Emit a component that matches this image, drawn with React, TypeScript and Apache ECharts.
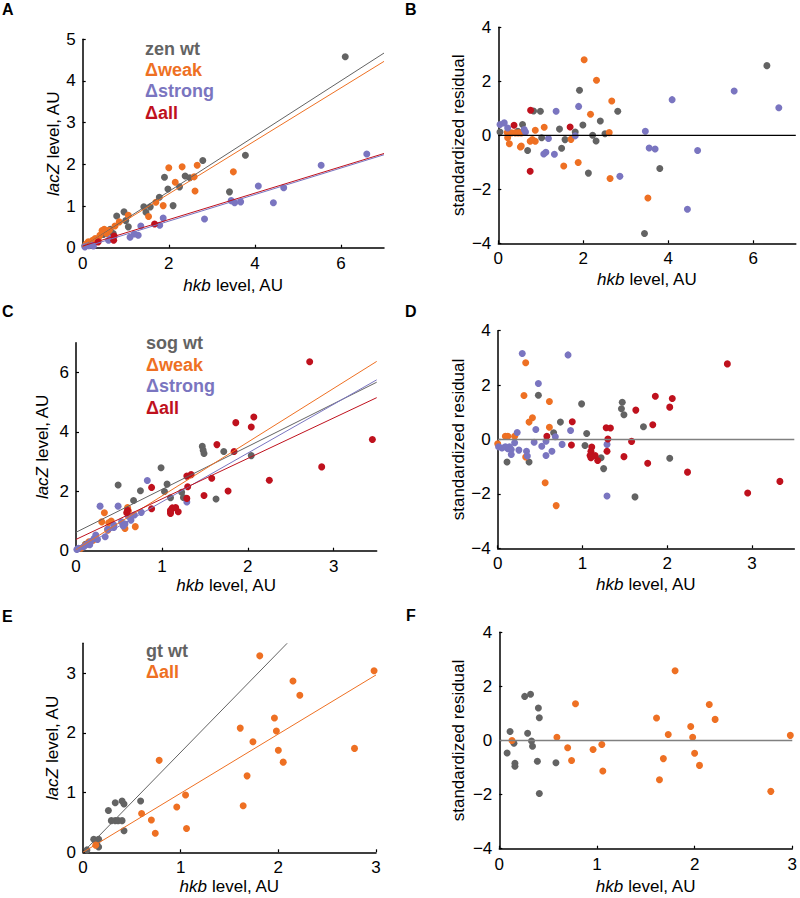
import React, { useEffect, useRef } from 'react';
import * as echarts from 'echarts';

const FONT = '"Liberation Sans", Arial, Helvetica, sans-serif';
const GRAY = '#636363';
const ORANGE = '#EE7023';
const BLUE = '#7A75C0';
const RED = '#BF111D';

// ---------- Panel A: zen, lacZ vs hkb ----------
const aGray = [[6.1,4.58],[3.78,2.22],[2.79,2.09],[1.9,1.69],[2.38,1.72],[2.49,1.68],[1.98,1.41],[2.25,1.46],[2.1,1.01],[1.78,1.21],[1.42,0.98],[1.57,0.98],[1.47,0.85],[0.96,0.86],[0.79,0.76],[1.0,0.65],[1.06,0.5],[0.64,0.44],[0.71,0.34],[0.48,0.32],[3.41,1.34],[0.05,0.05]];
const aWeak = [[2.0,1.92],[2.31,1.94],[2.66,1.98],[3.5,1.82],[2.15,1.57],[2.59,1.7],[2.61,1.36],[1.87,1.01],[1.7,1.09],[1.53,0.75],[1.06,0.78],[0.85,0.62],[0.75,0.52],[0.62,0.42],[0.5,0.44],[0.56,0.34],[0.4,0.3],[0.29,0.22],[0.23,0.18],[0.13,0.14],[0.08,0.09],[0.36,0.22],[0.45,0.41],[0.2,0.12]];
const aStrong = [[6.6,2.25],[5.54,1.98],[4.67,1.44],[4.43,1.08],[4.08,1.48],[3.45,1.13],[3.53,1.08],[3.67,1.1],[2.83,0.69],[1.87,0.71],[1.79,0.54],[1.35,0.52],[1.29,0.3],[1.2,0.33],[1.1,0.25],[0.6,0.18],[0.65,0.22],[0.25,0.04],[0.05,0.02],[0.14,0.05],[0.2,0.07]];
const aAll = [[0.36,0.14],[0.73,0.28],[0.72,0.18],[1.67,0.57]];
const aFitGray = [[0,0.02],[7,4.67]];
const aFitWeak = [[0,0.02],[7,4.47]];
const aFitStrong = [[0,0.0],[7,2.23]];
const aFitAll = [[0,0.04],[7,2.26]];

// ---------- Panel B: zen residuals ----------
const bGray = [[1.91,1.67],[0.83,0.9],[0.99,0.89],[2.81,0.89],[1.99,0.38],[2.4,0.53],[1.44,0.23],[0.57,0.4],[1.81,0.12],[1.02,-0.09],[1.57,-0.16],[2.22,0.0],[2.3,-0.21],[2.51,0.06],[0.69,-0.56],[1.49,-0.48],[2.12,-1.4],[3.8,-1.23],[0.04,0.12],[0.46,0.15],[3.44,-3.64],[6.32,2.58]];
const bWeak = [[2.31,2.04],[2.02,2.8],[2.67,1.27],[2.17,0.78],[1.08,0.3],[0.87,0.19],[2.61,0.1],[1.71,-0.15],[0.75,-0.22],[0.87,-0.22],[0.8,-0.16],[0.54,-0.4],[0.52,-0.43],[0.26,-0.31],[0.22,-0.09],[0.24,0.06],[0.31,0.09],[0.4,0.09],[0.47,0.09],[0.21,0.1],[1.88,-1.01],[1.54,-1.14],[2.63,-1.6],[3.52,-2.32],[0.54,0.09]];
const bStrong = [[4.09,1.32],[1.89,1.07],[1.36,0.89],[3.46,0.15],[3.55,-0.47],[3.69,-0.51],[2.86,-1.52],[1.81,-0.02],[1.18,-0.12],[1.12,-0.63],[1.07,-0.69],[1.32,-0.7],[0.04,0.4],[0.14,0.46],[0.22,0.27],[0.61,0.21],[0.64,0.12],[5.55,1.64],[6.6,1.02],[4.69,-0.56],[4.45,-2.74]];
const bAll = [[0.76,0.93],[0.37,0.37],[1.69,0.31],[0.75,-1.33]];
const bZero = [[0,0],[7,0]];

// ---------- Panel C: sog, lacZ vs hkb ----------
const cGray = [[1.47,3.51],[1.48,3.38],[1.49,3.27],[1.72,3.34],[2.04,3.2],[0.99,2.79],[0.49,2.21],[1.06,2.24],[0.75,2.02],[1.03,1.99],[0.67,1.69],[1.1,1.78],[1.23,1.97],[1.25,1.79],[1.63,1.74],[0.11,0.22],[0.37,0.72]];
const cWeak = [[0.33,1.28],[0.6,1.45],[0.61,1.34],[0.57,0.75],[0.69,0.81],[0.41,1.0],[0.38,0.94],[0.3,0.97],[0.37,0.69],[0.15,0.3],[0.11,0.19],[0.06,0.08],[0.2,0.35]];
const cStrong = [[0.83,2.36],[0.49,1.5],[0.28,1.5],[1.29,1.64],[0.76,1.29],[0.64,1.03],[0.68,1.2],[0.53,0.97],[0.55,0.83],[0.44,0.86],[0.44,0.78],[0.37,0.72],[0.34,0.47],[0.23,0.53],[0.21,0.41],[0.17,0.3],[0.13,0.22],[0.09,0.13],[0.03,0.08],[0.01,0.04],[0.61,1.16],[0.57,0.9],[0.16,0.2],[0.25,0.38]];
const cAll = [[1.86,4.31],[2.04,4.16],[2.07,4.5],[1.64,3.57],[1.84,3.34],[1.29,2.51],[1.34,2.56],[1.58,2.44],[0.88,2.13],[1.3,2.15],[1.77,2.01],[1.49,1.86],[1.29,1.76],[0.88,1.41],[0.59,1.28],[0.6,1.36],[1.12,1.44],[1.16,1.45],[1.1,1.25],[1.1,1.31],[1.19,1.31],[1.1,1.36],[2.72,6.36],[3.45,3.74],[2.86,2.82],[2.25,2.37]];
const cFitGray = [[0,0.62],[3.5,5.67]];
const cFitWeak = [[0,0.03],[3.5,6.37]];
const cFitStrong = [[0,0.0],[3.5,5.75]];
const cFitAll = [[0,0.38],[3.5,5.15]];

// ---------- Panel D: sog residuals ----------
const dGray = [[0.48,1.63],[0.99,1.31],[1.47,1.37],[1.46,1.13],[1.49,0.91],[0.74,0.64],[1.72,0.47],[0.66,0.25],[1.05,0.22],[1.03,-0.22],[1.22,-0.67],[1.25,-1.07],[2.03,-0.69],[1.62,-2.11],[0.11,-0.83],[0.37,-0.83]];
const dWeak = [[0.33,2.82],[0.31,1.62],[0.61,1.4],[0.41,0.8],[0.37,0.64],[0.61,0.45],[0.09,0.12],[0.12,0.12],[0.2,0.12],[0.0,-0.16],[0.33,-0.64],[0.56,-1.59],[0.69,-2.43]];
const dStrong = [[0.29,3.16],[0.83,3.11],[0.48,2.06],[0.45,0.37],[0.86,0.33],[0.23,0.26],[0.68,0.1],[0.76,-0.18],[0.43,-0.1],[0.57,-0.06],[0.52,-0.25],[0.64,-0.43],[0.57,-0.59],[0.34,-0.43],[0.35,-0.61],[0.25,-0.39],[0.2,-0.12],[0.16,-0.37],[0.14,-0.27],[0.12,-0.34],[0.09,-0.27],[0.05,-0.31],[0.01,-0.27],[1.29,-0.18],[1.29,-2.08],[0.16,-0.55]];
const dAll = [[1.86,1.59],[2.06,1.51],[2.03,1.19],[1.63,1.08],[1.83,0.54],[0.88,0.65],[1.28,0.43],[1.33,0.42],[1.3,0.02],[0.58,0.12],[0.87,-0.2],[1.58,-0.07],[1.11,-0.28],[1.1,-0.43],[1.09,-0.59],[1.15,-0.59],[1.1,-0.67],[1.18,-0.77],[1.29,-0.43],[1.49,-0.63],[1.77,-0.87],[2.71,2.78],[2.24,-1.2],[2.95,-1.97],[3.33,-1.54]];
const dZero = [[0,0],[3.5,0]];

// ---------- Panel E: gt, lacZ vs hkb ----------
const eGray = [[0.26,0.7],[0.33,0.83],[0.4,0.86],[0.42,0.81],[0.59,0.86],[0.29,0.53],[0.33,0.53],[0.36,0.53],[0.4,0.53],[0.42,0.36],[0.11,0.22],[0.16,0.22],[0.16,0.09],[0.04,0.04],[0.14,0.15]];
const eAll = [[1.81,3.29],[2.98,3.04],[2.15,2.87],[2.22,2.63],[1.96,2.25],[1.61,2.08],[1.98,2.03],[1.74,1.85],[2.0,1.71],[2.78,1.74],[2.05,1.51],[0.78,1.54],[1.68,1.28],[1.05,0.96],[0.96,0.76],[1.64,0.78],[0.6,0.65],[0.7,0.54],[1.06,0.4],[0.74,0.32],[0.13,0.12]];
const eFitGray = [[0,0],[2.09,3.5]];
const eFitAll = [[0,0],[3,2.97]];

// ---------- Panel F: gt residuals ----------
const fGray = [[0.08,-0.46],[0.11,0.33],[0.15,-0.1],[0.16,-0.84],[0.16,-0.95],[0.26,1.63],[0.32,1.71],[0.29,0.27],[0.33,-0.02],[0.34,-0.21],[0.4,1.2],[0.41,0.84],[0.39,-0.77],[0.41,-1.96],[0.58,-0.82]];
const fAll = [[0.13,0.0],[0.59,0.12],[0.78,1.36],[0.7,-0.27],[0.74,-0.74],[0.96,-0.33],[1.05,-0.15],[1.06,-1.13],[1.61,0.83],[1.8,2.58],[1.73,0.22],[1.64,-1.45],[1.68,-0.67],[1.96,0.52],[1.98,0.12],[2.0,-0.47],[2.05,-0.92],[2.15,1.33],[2.21,0.78],[2.78,-1.88],[2.98,0.19]];
const fZero = [[0,0],[3,0]];

// tick values
const ticksA_x = [0, 2, 4, 6];
const ticksA_y = [0, 1, 2, 3, 4, 5];
const ticksRes_y = [-4, -2, 0, 2, 4];
const ticksC_x = [0, 1, 2, 3];
const ticksC_y = [0, 2, 4, 6];
const ticksE_x = [0, 1, 2, 3];
const ticksE_y = [0, 1, 2, 3];

const fmt = (v: number) => (v < 0 ? '\u2212' + Math.abs(v) : String(v));

const labelStyle = { fontFamily: FONT, fontSize: 17, color: '#000' };
const nameStyle = {
  fontFamily: FONT,
  fontSize: 17,
  color: '#000',
  rich: { i: { fontFamily: FONT, fontSize: 17, color: '#000', fontStyle: 'italic' } },
};

function xAxis(gridIndex: number, max: number, ticks: number[], nameGap: number) {
  return {
    type: 'value',
    gridIndex,
    min: 0,
    max,
    name: '{i|hkb} level, AU',
    nameLocation: 'middle',
    nameGap,
    nameTextStyle: nameStyle,
    axisLine: { show: true, onZero: false, lineStyle: { color: '#000', width: 1.5 } },
    axisTick: { show: true, inside: true, length: 3, customValues: ticks, lineStyle: { color: '#000', width: 1.2 } },
    axisLabel: { ...labelStyle, margin: 7, customValues: ticks, formatter: fmt },
    splitLine: { show: false },
  };
}

function yAxis(gridIndex: number, min: number, max: number, ticks: number[], name: string, nameGap: number) {
  return {
    type: 'value',
    gridIndex,
    min,
    max,
    name,
    nameLocation: 'middle',
    nameGap,
    nameRotate: 90,
    nameTextStyle: nameStyle,
    axisLine: { show: true, onZero: false, lineStyle: { color: '#000', width: 1.5 } },
    axisTick: { show: true, inside: true, length: 3, customValues: ticks, lineStyle: { color: '#000', width: 1.2 } },
    axisLabel: { ...labelStyle, margin: 7, customValues: ticks, formatter: fmt },
    splitLine: { show: false },
  };
}

function dots(idx: number, data: number[][], color: string) {
  return {
    type: 'scatter',
    xAxisIndex: idx,
    yAxisIndex: idx,
    data,
    symbol: 'circle',
    symbolSize: 7,
    itemStyle: { color, opacity: 1 },
    silent: true,
    z: 2,
  };
}

function fit(idx: number, data: number[][], color: string, width = 1) {
  return {
    type: 'line',
    xAxisIndex: idx,
    yAxisIndex: idx,
    data,
    symbol: 'none',
    lineStyle: { color, width },
    silent: true,
    z: 3,
  };
}

function label(text: string, x: number, y: number, fill: string, size = 18) {
  return {
    type: 'text',
    x,
    y,
    style: { text, fill, font: `bold ${size}px ${FONT}`, verticalAlign: 'middle', align: 'left' },
  };
}

const option = {
  animation: false,
  grid: [
    { left: 82.7, top: 39.3, width: 301.3, height: 208.4 },
    { left: 498.3, top: 27.3, width: 297.5, height: 216 },
    { left: 76, top: 342.7, width: 300.7, height: 208 },
    { left: 497.7, top: 330.7, width: 296.6, height: 217.6 },
    { left: 83, top: 643.3, width: 293, height: 209 },
    { left: 499.3, top: 632.3, width: 296.4, height: 216.4 },
  ],
  xAxis: [
    xAxis(0, 7, ticksA_x, 29),
    xAxis(1, 7, ticksA_x, 27.5),
    xAxis(2, 3.5, ticksC_x, 26),
    xAxis(3, 3.5, ticksC_x, 28),
    xAxis(4, 3, ticksE_x, 26),
    xAxis(5, 3, ticksE_x, 29),
  ],
  yAxis: [
    yAxis(0, 0, 5, ticksA_y, '{i|lacZ} level, AU', 20),
    yAxis(1, -4, 4, ticksRes_y, 'standardized residual', 31),
    yAxis(2, 0, 7, ticksC_y, '{i|lacZ} level, AU', 25),
    yAxis(3, -4, 4, ticksRes_y, 'standardized residual', 30.5),
    yAxis(4, 0, 3.5, ticksE_y, '{i|lacZ} level, AU', 22),
    yAxis(5, -4, 4, ticksRes_y, 'standardized residual', 32),
  ],
  series: [
    dots(0, aGray, GRAY), dots(0, aWeak, ORANGE), dots(0, aStrong, BLUE), dots(0, aAll, RED),
    fit(0, aFitGray, GRAY), fit(0, aFitWeak, ORANGE), fit(0, aFitStrong, BLUE), fit(0, aFitAll, RED),
    fit(1, bZero, '#000', 1.2),
    dots(1, bGray, GRAY), dots(1, bWeak, ORANGE), dots(1, bStrong, BLUE), dots(1, bAll, RED),
    dots(2, cGray, GRAY), dots(2, cWeak, ORANGE), dots(2, cStrong, BLUE), dots(2, cAll, RED),
    fit(2, cFitGray, GRAY), fit(2, cFitWeak, ORANGE), fit(2, cFitStrong, BLUE), fit(2, cFitAll, RED),
    fit(3, dZero, '#808080', 1.5),
    dots(3, dGray, GRAY), dots(3, dWeak, ORANGE), dots(3, dStrong, BLUE), dots(3, dAll, RED),
    dots(4, eGray, GRAY), dots(4, eAll, ORANGE),
    fit(4, eFitGray, GRAY), fit(4, eFitAll, ORANGE),
    fit(5, fZero, '#808080', 1.5),
    dots(5, fGray, GRAY), dots(5, fAll, ORANGE),
  ],
  graphic: [
    label('A', 2, 9.4, '#000', 16),
    label('B', 405, 9.4, '#000', 16),
    label('C', 2, 311, '#000', 16),
    label('D', 405, 311.4, '#000', 16),
    label('E', 2, 616, '#000', 16),
    label('F', 406, 615, '#000', 16),
    label('zen wt', 145, 48.8, GRAY),
    label('\u0394weak', 145, 69.8, ORANGE),
    label('\u0394strong', 145, 91.3, BLUE),
    label('\u0394all', 145, 112.8, RED),
    label('sog wt', 146, 343.1, GRAY),
    label('\u0394weak', 146, 364.5, ORANGE),
    label('\u0394strong', 146, 386.1, BLUE),
    label('\u0394all', 146, 407.8, RED),
    label('gt wt', 146, 651.1, GRAY),
    label('\u0394all', 146, 672.1, ORANGE),
  ],
};

export default function App() {
  const ref = useRef<HTMLDivElement>(null);
  useEffect(() => {
    document.body.style.margin = '0';
    const chart = echarts.init(ref.current as HTMLDivElement, null, { renderer: 'svg' });
    chart.setOption(option as any);
    return () => chart.dispose();
  }, []);
  return <div ref={ref} style={{ width: 800, height: 898 }} />;
}
